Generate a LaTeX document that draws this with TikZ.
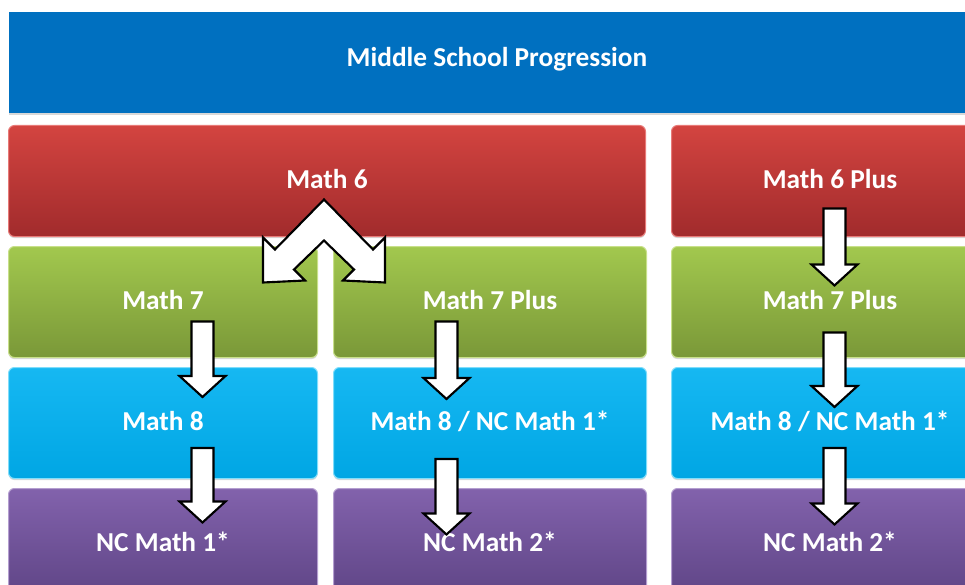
\documentclass[tikz,border=0pt]{standalone}
\usepackage{fontspec}
\setmainfont{Carlito}
\usepackage{tikz}
\usetikzlibrary{positioning,calc,shadows}

\definecolor{bannerblue}{HTML}{0070C0}
\definecolor{redtop}{HTML}{D34440}
\definecolor{redbot}{HTML}{A12B2C}
\definecolor{redrim}{HTML}{E87A78}
\definecolor{greentop}{HTML}{A2C84E}
\definecolor{greenbot}{HTML}{7A9838}
\definecolor{greenrim}{HTML}{C8E08A}
\definecolor{cyantop}{HTML}{16B8F2}
\definecolor{cyanbot}{HTML}{00A6E4}
\definecolor{cyanrim}{HTML}{80DDFA}
\definecolor{purptop}{HTML}{8262AC}
\definecolor{purpbot}{HTML}{5E4485}
\definecolor{purprim}{HTML}{B49ED0}

\tikzset{
  box/.style={rectangle, rounded corners=4.5pt, minimum height=83.25pt, inner sep=0pt,
    text=white, line width=0.75pt, font=\fontsize{20.5}{24}\selectfont\bfseries,
    text height=14pt, text depth=2.8pt,
    drop shadow={shadow xshift=0pt, shadow yshift=-1.2pt, opacity=0.3}},
  bannerbox/.style={box, rounded corners=0pt, fill=bannerblue, minimum width=732.75pt,
    minimum height=75.75pt, text depth=8.75pt},
  redbox/.style={box, top color=redtop, bottom color=redbot, draw=redrim},
  greenbox/.style={box, top color=greentop, bottom color=greenbot, draw=greenrim},
  cyanbox/.style={box, top color=cyantop, bottom color=cyanbot, draw=cyanrim},
  purplebox/.style={box, top color=purptop, bottom color=purpbot, draw=purprim},
  wleft/.style={minimum width=231.75pt},
  wmid/.style={minimum width=234.75pt},
  wright/.style={minimum width=237.75pt},
  wfull/.style={minimum width=477.75pt},
  blockarrow/.style={draw=black, fill=white, line width=1.6pt, line join=miter},
  blockdown/.style={blockarrow, to path={let \p1=(\tikztostart), \p2=(\tikztotarget) in
    (\x1-8.25pt,\y1) -- (\x1+8.25pt,\y1) -- (\x1+8.25pt,\y2+15.75pt) -- (\x1+17.25pt,\y2+15.75pt)
    -- (\x1,\y2) -- (\x1-17.25pt,\y2+15.75pt) -- (\x1-8.25pt,\y2+15.75pt) -- cycle}}
}

\begin{document}
\begin{tikzpicture}[x=0.75pt, y=-0.75pt]
  \useasboundingbox (0,0) rectangle (965,585);
  \fill[white] (0,0) rectangle (965,585);
  \clip (0,0) rectangle (965,585);

  % course boxes
  \node[bannerbox, anchor=north west] (title) at (8,12) {Middle School Progression};
  \node[redbox, wfull, below right=8.25pt and 0pt of title.south west] (m6) {Math 6};
  \node[redbox, wright, right=18.75pt of m6] (m6p) {Math 6 Plus};
  \node[greenbox, wleft, below right=6.75pt and 0pt of m6.south west] (m7) {Math 7};
  \node[greenbox, wmid, right=11.25pt of m7] (m7p) {Math 7 Plus};
  \node[greenbox, wright, below=6.75pt of m6p] (r7p) {Math 7 Plus};
  \node[cyanbox, wleft, below=6.75pt of m7] (m8) {Math 8};
  \node[cyanbox, wmid, below=6.75pt of m7p] (m8n) {Math 8 / NC Math 1*};
  \node[cyanbox, wright, below=6.75pt of r7p] (r8n) {Math 8 / NC Math 1*};
  \node[purplebox, wleft, below=6.75pt of m8] (nc1) {NC Math 1*};
  \node[purplebox, wmid, below=6.75pt of m8n] (nc2) {NC Math 2*};
  \node[purplebox, wright, below=6.75pt of r8n] (r2) {NC Math 2*};

  % split arrow out of Math 6
  \coordinate (apex) at ($(m6)+(-3,18.5)$);
  \draw[blockarrow, shift={(apex)}] (0,0) -- (49,50) -- (61,38) -- (61,83) -- (19,81) -- (30,70)
    -- (0,41) -- (-30,70) -- (-19,81) -- (-61,83) -- (-61,38) -- (-49,50) -- cycle;

  % straight arrows
  \draw[blockdown] ($(m6p)+(4.5,27.5)$) to ($(r7p)+(4.5,-16.5)$);
  \draw[blockdown] ($(m7)+(39.5,19.5)$) to ($(m8)+(39.5,-26)$);
  \draw[blockdown] ($(m7p)+(-43.5,19.5)$) to ($(m8n)+(-43.5,-24)$);
  \draw[blockdown] ($(r7p)+(4.5,30.5)$) to ($(r8n)+(4.5,-16)$);
  \draw[blockdown] ($(m8)+(39.5,25)$) to ($(nc1)+(39.5,-21.5)$);
  \draw[blockdown] ($(m8n)+(-43.5,36)$) to ($(nc2)+(-43.5,-9.5)$);
  \draw[blockdown] ($(r8n)+(4.5,25)$) to ($(r2)+(4.5,-19.5)$);
\end{tikzpicture}
\end{document}
